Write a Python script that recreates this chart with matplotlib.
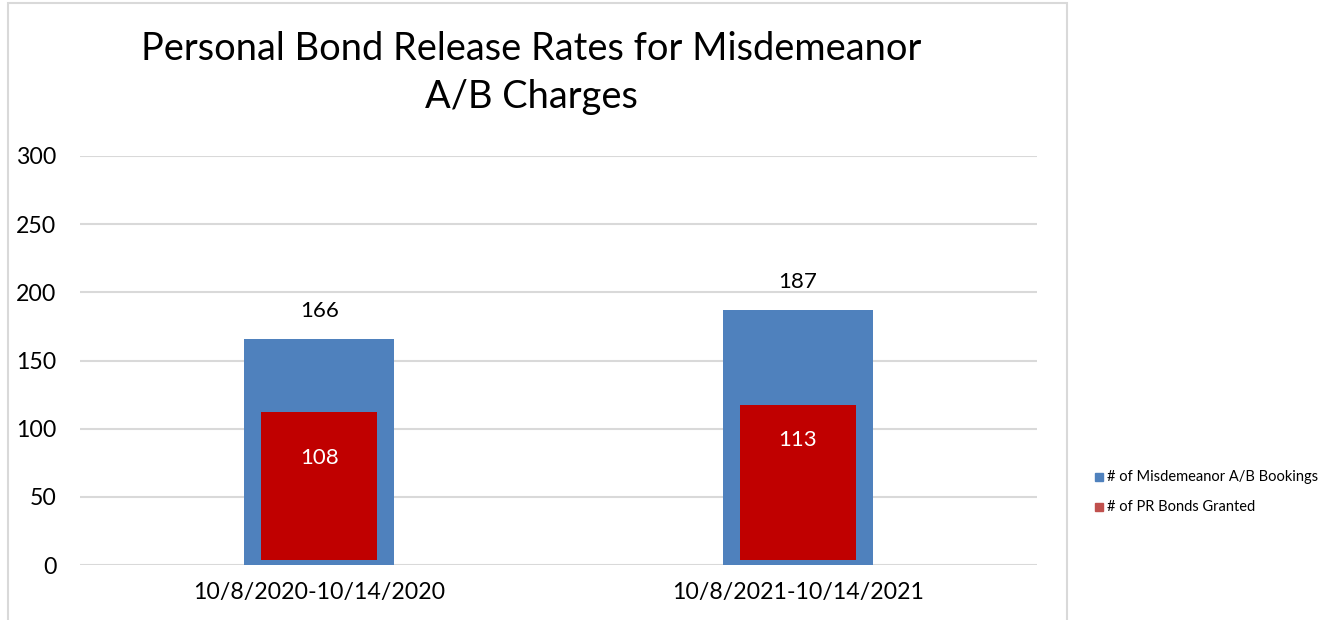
import matplotlib.pyplot as plt
from matplotlib.patches import Rectangle

categories = ['10/8/2020-10/14/2020', '10/8/2021-10/14/2021']
bookings = [166, 187]
pr_bonds = [108, 113]
series_names = ['# of Misdemeanor A/B Bookings', '# of PR Bonds Granted']

plt.rcParams['font.family'] = ['Lato', 'DejaVu Sans']

fig = plt.figure(figsize=(13.35, 6.2), dpi=100)
ax = fig.add_axes([80/1335, 1 - 565/620, (1037 - 80)/1335, (565 - 156)/620])

# chart frame
fig.patches.append(Rectangle((8/1335, -0.05), (1067 - 8)/1335, 1.05 - 3/620,
                             transform=fig.transFigure, fill=False,
                             edgecolor='#D9D9D9', linewidth=1.5))

x = range(len(categories))
ax.bar(x, bookings, width=0.313, color='#4F81BD', zorder=2)
red_bottom = 4
ax.bar(x, pr_bonds, width=0.243, bottom=red_bottom, color='#C00000', zorder=3)

for i, v in enumerate(bookings):
    ax.text(i, v + 13, str(v), ha='center', va='bottom', fontsize=16, color='#000000')
label_frac = [0.73, 0.81]
for i, v in enumerate(pr_bonds):
    ax.text(i, v * label_frac[i], str(v), ha='center', va='center', fontsize=16,
            color='white', zorder=4)

ax.set_xlim(-0.5, 1.5)
ax.set_ylim(0, 300)
ax.set_yticks(range(0, 301, 50))
ax.set_xticks(list(x))
ax.set_xticklabels(categories, fontsize=16.7)
ax.tick_params(axis='y', labelsize=16.7, length=0, pad=17)
ax.tick_params(axis='x', length=0, pad=12)
ax.yaxis.grid(True, color='#D9D9D9', linewidth=1.5, zorder=0)
ax.set_axisbelow(True)
for s in ax.spines.values():
    s.set_visible(False)

fig.text(531/1335, 1 - 73/620, 'Personal Bond Release Rates for Misdemeanor\nA/B Charges',
         ha='center', va='center', fontsize=27.4, linespacing=1.4, color='#000000')

# legend
leg_colors = ['#4F81BD', '#C0504D']
leg_y = [477, 507]
for name, c, yy in zip(series_names, leg_colors, leg_y):
    fig.patches.append(Rectangle((1095/1335, 1 - (yy + 4)/620), 8/1335, 8/620,
                                 transform=fig.transFigure, color=c))
    fig.text(1107/1335, 1 - yy/620, name, ha='left', va='center', fontsize=10.5)

fig.savefig('out.png', dpi=100)
